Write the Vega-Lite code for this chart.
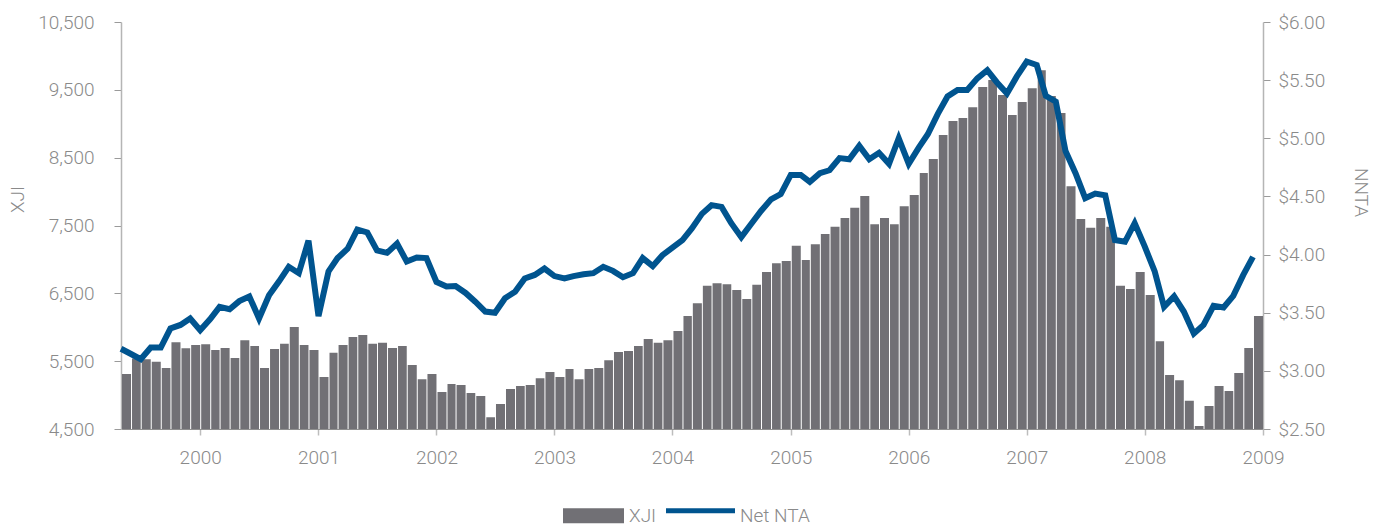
{
  "$schema": "https://vega.github.io/schema/vega-lite/v6.json",
  "width": 1142,
  "height": 407,
  "autosize": {"type": "none"},
  "padding": {"left": 121, "top": 22, "right": 126, "bottom": 97},
  "background": "white",
  "config": {
    "view": {"stroke": null},
    "font": "Roboto",
    "axis": {"labelFont": "Roboto", "labelFontWeight": 300, "titleFont": "Roboto", "titleFontWeight": 300, "labelColor": "#8a8a8a", "titleColor": "#8a8a8a", "labelFontSize": 19, "titleFontSize": 19, "grid": false}
  },
  "data": {"values": [
    {"date": "1999-05-01", "xji": 5310, "nta": 3.19},
    {"date": "1999-06-01", "xji": 5540, "nta": 3.145},
    {"date": "1999-07-01", "xji": 5530, "nta": 3.10},
    {"date": "1999-08-01", "xji": 5490, "nta": 3.20},
    {"date": "1999-09-01", "xji": 5400, "nta": 3.20},
    {"date": "1999-10-01", "xji": 5780, "nta": 3.365},
    {"date": "1999-11-01", "xji": 5690, "nta": 3.395},
    {"date": "1999-12-01", "xji": 5740, "nta": 3.45},
    {"date": "2000-01-01", "xji": 5750, "nta": 3.35},
    {"date": "2000-02-01", "xji": 5665, "nta": 3.445},
    {"date": "2000-03-01", "xji": 5695, "nta": 3.55},
    {"date": "2000-04-01", "xji": 5545, "nta": 3.53},
    {"date": "2000-05-01", "xji": 5810, "nta": 3.60},
    {"date": "2000-06-01", "xji": 5725, "nta": 3.64},
    {"date": "2000-07-01", "xji": 5400, "nta": 3.45},
    {"date": "2000-08-01", "xji": 5680, "nta": 3.65},
    {"date": "2000-09-01", "xji": 5755, "nta": 3.77},
    {"date": "2000-10-01", "xji": 6005, "nta": 3.895},
    {"date": "2000-11-01", "xji": 5740, "nta": 3.84},
    {"date": "2000-12-01", "xji": 5665, "nta": 4.12},
    {"date": "2001-01-01", "xji": 5265, "nta": 3.47},
    {"date": "2001-02-01", "xji": 5625, "nta": 3.855},
    {"date": "2001-03-01", "xji": 5740, "nta": 3.97},
    {"date": "2001-04-01", "xji": 5855, "nta": 4.05},
    {"date": "2001-05-01", "xji": 5885, "nta": 4.215},
    {"date": "2001-06-01", "xji": 5755, "nta": 4.19},
    {"date": "2001-07-01", "xji": 5770, "nta": 4.035},
    {"date": "2001-08-01", "xji": 5695, "nta": 4.015},
    {"date": "2001-09-01", "xji": 5725, "nta": 4.095},
    {"date": "2001-10-01", "xji": 5445, "nta": 3.94},
    {"date": "2001-11-01", "xji": 5235, "nta": 3.975},
    {"date": "2001-12-01", "xji": 5310, "nta": 3.97},
    {"date": "2002-01-01", "xji": 5045, "nta": 3.765},
    {"date": "2002-02-01", "xji": 5165, "nta": 3.725},
    {"date": "2002-03-01", "xji": 5150, "nta": 3.73},
    {"date": "2002-04-01", "xji": 5030, "nta": 3.67},
    {"date": "2002-05-01", "xji": 4985, "nta": 3.595},
    {"date": "2002-06-01", "xji": 4675, "nta": 3.51},
    {"date": "2002-07-01", "xji": 4870, "nta": 3.50},
    {"date": "2002-08-01", "xji": 5090, "nta": 3.625},
    {"date": "2002-09-01", "xji": 5135, "nta": 3.68},
    {"date": "2002-10-01", "xji": 5150, "nta": 3.795},
    {"date": "2002-11-01", "xji": 5250, "nta": 3.825},
    {"date": "2002-12-01", "xji": 5340, "nta": 3.88},
    {"date": "2003-01-01", "xji": 5265, "nta": 3.815},
    {"date": "2003-02-01", "xji": 5385, "nta": 3.795},
    {"date": "2003-03-01", "xji": 5235, "nta": 3.815},
    {"date": "2003-04-01", "xji": 5385, "nta": 3.83},
    {"date": "2003-05-01", "xji": 5400, "nta": 3.84},
    {"date": "2003-06-01", "xji": 5515, "nta": 3.895},
    {"date": "2003-07-01", "xji": 5635, "nta": 3.86},
    {"date": "2003-08-01", "xji": 5650, "nta": 3.805},
    {"date": "2003-09-01", "xji": 5725, "nta": 3.84},
    {"date": "2003-10-01", "xji": 5825, "nta": 3.97},
    {"date": "2003-11-01", "xji": 5770, "nta": 3.90},
    {"date": "2003-12-01", "xji": 5810, "nta": 3.995},
    {"date": "2004-01-01", "xji": 5945, "nta": 4.06},
    {"date": "2004-02-01", "xji": 6165, "nta": 4.125},
    {"date": "2004-03-01", "xji": 6355, "nta": 4.225},
    {"date": "2004-04-01", "xji": 6610, "nta": 4.35},
    {"date": "2004-05-01", "xji": 6650, "nta": 4.425},
    {"date": "2004-06-01", "xji": 6635, "nta": 4.41},
    {"date": "2004-07-01", "xji": 6550, "nta": 4.27},
    {"date": "2004-08-01", "xji": 6415, "nta": 4.15},
    {"date": "2004-09-01", "xji": 6625, "nta": 4.265},
    {"date": "2004-10-01", "xji": 6815, "nta": 4.375},
    {"date": "2004-11-01", "xji": 6945, "nta": 4.475},
    {"date": "2004-12-01", "xji": 6975, "nta": 4.52},
    {"date": "2005-01-01", "xji": 7200, "nta": 4.685},
    {"date": "2005-02-01", "xji": 6990, "nta": 4.685},
    {"date": "2005-03-01", "xji": 7225, "nta": 4.625},
    {"date": "2005-04-01", "xji": 7375, "nta": 4.70},
    {"date": "2005-05-01", "xji": 7480, "nta": 4.725},
    {"date": "2005-06-01", "xji": 7610, "nta": 4.83},
    {"date": "2005-07-01", "xji": 7760, "nta": 4.82},
    {"date": "2005-08-01", "xji": 7935, "nta": 4.935},
    {"date": "2005-09-01", "xji": 7520, "nta": 4.82},
    {"date": "2005-10-01", "xji": 7610, "nta": 4.875},
    {"date": "2005-11-01", "xji": 7520, "nta": 4.78},
    {"date": "2005-12-01", "xji": 7785, "nta": 5.00},
    {"date": "2006-01-01", "xji": 7950, "nta": 4.78},
    {"date": "2006-02-01", "xji": 8275, "nta": 4.92},
    {"date": "2006-03-01", "xji": 8480, "nta": 5.035},
    {"date": "2006-04-01", "xji": 8835, "nta": 5.21},
    {"date": "2006-05-01", "xji": 9040, "nta": 5.36},
    {"date": "2006-06-01", "xji": 9085, "nta": 5.415},
    {"date": "2006-07-01", "xji": 9245, "nta": 5.415},
    {"date": "2006-08-01", "xji": 9540, "nta": 5.515},
    {"date": "2006-09-01", "xji": 9645, "nta": 5.585},
    {"date": "2006-10-01", "xji": 9425, "nta": 5.48},
    {"date": "2006-11-01", "xji": 9130, "nta": 5.385},
    {"date": "2006-12-01", "xji": 9320, "nta": 5.53},
    {"date": "2007-01-01", "xji": 9525, "nta": 5.66},
    {"date": "2007-02-01", "xji": 9790, "nta": 5.63},
    {"date": "2007-03-01", "xji": 9410, "nta": 5.365},
    {"date": "2007-04-01", "xji": 9160, "nta": 5.315},
    {"date": "2007-05-01", "xji": 8080, "nta": 4.89},
    {"date": "2007-06-01", "xji": 7595, "nta": 4.70},
    {"date": "2007-07-01", "xji": 7465, "nta": 4.485},
    {"date": "2007-08-01", "xji": 7610, "nta": 4.525},
    {"date": "2007-09-01", "xji": 7480, "nta": 4.51},
    {"date": "2007-10-01", "xji": 6610, "nta": 4.125},
    {"date": "2007-11-01", "xji": 6565, "nta": 4.11},
    {"date": "2007-12-01", "xji": 6815, "nta": 4.27},
    {"date": "2008-01-01", "xji": 6475, "nta": 4.07},
    {"date": "2008-02-01", "xji": 5795, "nta": 3.855},
    {"date": "2008-03-01", "xji": 5295, "nta": 3.55},
    {"date": "2008-04-01", "xji": 5220, "nta": 3.64},
    {"date": "2008-05-01", "xji": 4915, "nta": 3.51},
    {"date": "2008-06-01", "xji": 4545, "nta": 3.32},
    {"date": "2008-07-01", "xji": 4840, "nta": 3.395},
    {"date": "2008-08-01", "xji": 5135, "nta": 3.56},
    {"date": "2008-09-01", "xji": 5060, "nta": 3.545},
    {"date": "2008-10-01", "xji": 5325, "nta": 3.645},
    {"date": "2008-11-01", "xji": 5695, "nta": 3.825},
    {"date": "2008-12-01", "xji": 6165, "nta": 3.98}
  ]},
  "layer": [
    {
      "mark": {"type": "bar", "clip": true},
      "encoding": {
        "x": {
          "field": "date", "type": "temporal", "timeUnit": "utcyearmonth",
          "scale": {"type": "utc", "nice": false, "domain": [{"year": 1999, "month": 5, "date": 1, "utc": true}, {"year": 2009, "month": 1, "date": 1, "utc": true}]},
          "axis": {
            "title": null,
            "values": [
              {"year": 2000, "month": 1, "date": 1, "utc": true},
              {"year": 2001, "month": 1, "date": 1, "utc": true},
              {"year": 2002, "month": 1, "date": 1, "utc": true},
              {"year": 2003, "month": 1, "date": 1, "utc": true},
              {"year": 2004, "month": 1, "date": 1, "utc": true},
              {"year": 2005, "month": 1, "date": 1, "utc": true},
              {"year": 2006, "month": 1, "date": 1, "utc": true},
              {"year": 2007, "month": 1, "date": 1, "utc": true},
              {"year": 2008, "month": 1, "date": 1, "utc": true},
              {"year": 2009, "month": 1, "date": 1, "utc": true}
            ],
            "labelExpr": "utcFormat(datum.value, '%Y')",
            "labelPadding": 13, "tickSize": 6, "tickColor": "#bdbdbd", "tickWidth": 1.5,
            "domainColor": "#8f8f8f", "domainWidth": 1, "labelFlush": false, "labelOverlap": false
          }
        },
        "y": {
          "field": "xji", "type": "quantitative",
          "scale": {"domain": [4500, 10500], "zero": false, "nice": false},
          "axis": {
            "orient": "left", "values": [4500, 5500, 6500, 7500, 8500, 9500, 10500], "format": ",d",
            "title": "XJI", "titleX": -104, "titleY": 177, "titleAngle": 270, "titleAlign": "center", "titleBaseline": "middle",
            "labelPadding": 20, "tickSize": 7, "tickColor": "#9a9a9a", "tickWidth": 1,
            "domainColor": "#b5b5b5", "domainWidth": 1.5
          }
        },
        "color": {
          "datum": "XJI", "type": "nominal",
          "scale": {"domain": ["XJI", "Net NTA"], "range": ["#717075", "#00548F"]},
          "legend": {
            "orient": "none", "legendX": 434, "legendY": 459, "direction": "horizontal",
            "title": null, "padding": 0, "symbolSize": 4761, "symbolStrokeWidth": 0,
            "labelFont": "Roboto", "labelFontWeight": 300, "labelFontSize": 19, "labelColor": "#8a8a8a",
            "labelOffset": 5, "columnPadding": 9,
            "encode": {
              "symbols": {
                "update": {
                  "shape": {"signal": "datum.value === 'XJI' ? 'M-0.768,-0.217H1V0.217H-0.768Z' : 'M-1,-0.217H1V-0.072H-1Z'"},
                  "fill": {"signal": "datum.value === 'XJI' ? '#717075' : '#00548F'"},
                  "stroke": {"value": "transparent"},
                  "opacity": {"value": 1}
                }
              }
            }
          }
        }
      }
    },
    {
      "mark": {"type": "line", "strokeWidth": 6},
      "encoding": {
        "x": {"field": "date", "type": "temporal"},
        "y": {
          "field": "nta", "type": "quantitative",
          "scale": {"domain": [2.5, 6], "zero": false, "nice": false},
          "axis": {
            "orient": "right", "values": [2.5, 3, 3.5, 4, 4.5, 5, 5.5, 6], "format": "$.2f",
            "title": "NNTA", "titleX": 97, "titleY": 170, "titleAngle": 90, "titleAlign": "center", "titleBaseline": "middle",
            "labelPadding": 8, "tickSize": 7, "tickColor": "#9a9a9a", "tickWidth": 1,
            "domainColor": "#b5b5b5", "domainWidth": 1.5
          }
        },
        "color": {"datum": "Net NTA", "type": "nominal"}
      }
    }
  ],
  "resolve": {"scale": {"y": "independent"}, "axis": {"y": "independent"}}
}
